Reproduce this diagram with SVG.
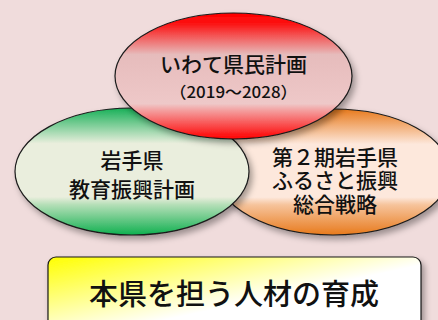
<svg xmlns="http://www.w3.org/2000/svg" width="438" height="320" viewBox="0 0 438 320">
<defs>
<linearGradient id="gRed" x1="0" y1="0" x2="0" y2="1">
<stop offset="0" stop-color="#ff0000"/>
<stop offset="0.08" stop-color="#fc1010"/>
<stop offset="0.33" stop-color="#e6bcbc"/>
<stop offset="0.72" stop-color="#eec8c8"/>
<stop offset="0.78" stop-color="#f49a9a"/>
<stop offset="1" stop-color="#ff0000"/>
</linearGradient>
<linearGradient id="gGreen" x1="0" y1="0" x2="0" y2="1">
<stop offset="0" stop-color="#18b058"/>
<stop offset="0.28" stop-color="#eaeedd"/>
<stop offset="0.7" stop-color="#eaeedd"/>
<stop offset="0.76" stop-color="#b6dfb8"/>
<stop offset="1" stop-color="#10b050"/>
</linearGradient>
<linearGradient id="gOrange" x1="0" y1="0" x2="0" y2="1">
<stop offset="0" stop-color="#e87a1c"/>
<stop offset="0.28" stop-color="#fde8dc"/>
<stop offset="0.7" stop-color="#fde8dc"/>
<stop offset="0.76" stop-color="#f6c49c"/>
<stop offset="1" stop-color="#e87a1c"/>
</linearGradient>
<linearGradient id="gBox" x1="0" y1="0" x2="1" y2="1">
<stop offset="0" stop-color="#ffff00"/>
<stop offset="0.55" stop-color="#ffffff"/>
<stop offset="1" stop-color="#ffffff"/>
</linearGradient>
<filter id="sh" x="-20%" y="-20%" width="150%" height="150%">
<feDropShadow dx="3" dy="4" stdDeviation="3" flood-color="#000" flood-opacity="0.35"/>
</filter>
</defs>
<style>
.shape{stroke:#1a1a1a;stroke-width:1.2;filter:url(#sh)}
text{font-family:"Noto Sans CJK JP","Noto Sans CJK SC",sans-serif;fill:#111;text-anchor:middle;font-weight:500}
.t{font-size:21px}
.s{font-size:16px}
.b{font-size:29px}
</style>
<rect width="438" height="320" fill="#f0dcdc"/>
<g id="node-furusato">
<ellipse class="shape" cx="333" cy="172" rx="117" ry="63" fill="url(#gOrange)"/>
<text class="t" x="335" y="165">第２期岩手県</text>
<text class="t" x="335" y="188">ふるさと振興</text>
<text class="t" x="335" y="212">総合戦略</text>
</g>
<g id="node-kyoiku">
<ellipse class="shape" cx="132" cy="171.5" rx="117" ry="63.5" fill="url(#gGreen)"/>
<text class="t" x="132" y="168">岩手県</text>
<text class="t" x="132" y="197">教育振興計画</text>
</g>
<g id="node-kenmin">
<ellipse class="shape" cx="233.5" cy="76" rx="118.5" ry="63" fill="url(#gRed)"/>
<text class="t" x="233.5" y="72">いわて県民計画</text>
<text class="s" x="233.5" y="98" textLength="128" lengthAdjust="spacingAndGlyphs">（2019～2028）</text>
</g>
<g id="node-jinzai">
<rect class="shape" x="48" y="257" width="373" height="80" rx="8" fill="url(#gBox)"/>
<text class="b" x="234" y="305">本県を担う人材の育成</text>
</g>
<g id="connectors"></g>
</svg>
